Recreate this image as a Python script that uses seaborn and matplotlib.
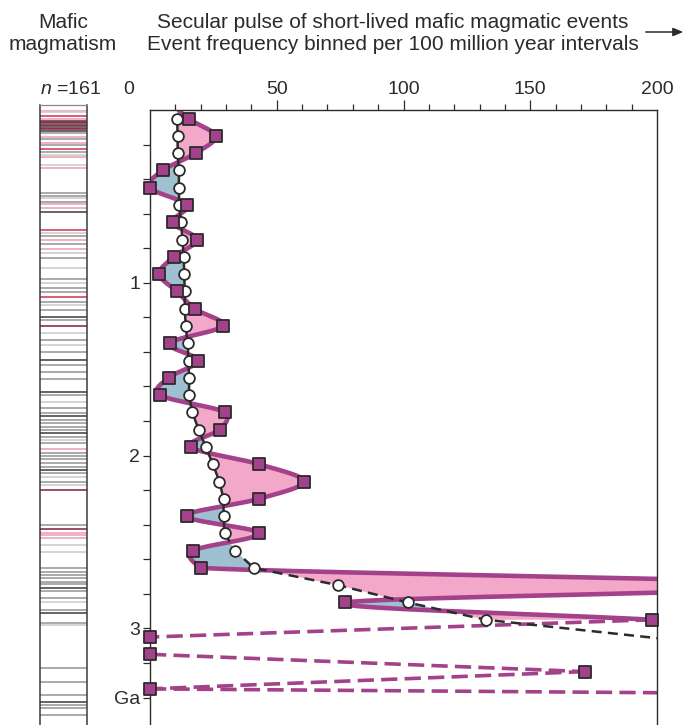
import numpy as np
import pandas as pd
import matplotlib
matplotlib.use("Agg")
import matplotlib.pyplot as plt
import matplotlib.transforms as mtransforms
import seaborn as sns

# ---------------------------------------------------------------------------
# Data
# ---------------------------------------------------------------------------
# 100 Myr bin centres (Ga)
bin_age = [0.05, 0.15, 0.25, 0.35, 0.45, 0.55, 0.65, 0.75, 0.85, 0.95,
           1.05, 1.15, 1.25, 1.35, 1.45, 1.55, 1.65, 1.75, 1.85, 1.95,
           2.05, 2.15, 2.25, 2.35, 2.45, 2.55, 2.65, 2.75, 2.85, 2.95]
# event frequency per bin (squares)
event_freq = [15.4, 25.9, 18.0, 5.0, 0.0, 14.6, 8.9, 18.5, 9.4, 3.6,
              10.7, 17.6, 28.8, 7.8, 18.9, 7.3, 3.9, 29.7, 27.5, 16.0,
              43.1, 60.8, 43.1, 14.4, 43.1, 17.0, 20.3, 270.0, 77.1, 198.0]
# long-term trend (open circles)
trend_freq = [10.7, 10.9, 10.9, 11.4, 11.4, 11.5, 12.3, 12.8, 13.3, 13.5,
              13.7, 13.7, 14.1, 14.8, 15.2, 15.4, 15.4, 16.7, 19.2, 22.0,
              24.8, 27.4, 29.0, 29.0, 29.4, 33.6, 40.9, 74.2, 101.7, 132.4]
# trend continues past the last plotted circle
trend_tail_age = [3.05, 3.15]
trend_tail_freq = [196.0, 260.0]

# poorly constrained Archean bins (dashed)
old_age = [2.95, 3.05, 3.15, 3.25, 3.35, 3.45]
old_freq = [198.0, 0.0, 0.0, 171.6, 0.0, 900.0]

# individual mafic events for the barcode column (Ma) and their colour class
event_age_ma = [5, 10, 35, 54, 62, 70, 78, 86, 94, 102, 110, 120,
                135, 155, 170, 189, 203, 227, 241, 260, 274, 318, 337,
                482, 498, 511, 531, 544, 569, 589, 694, 710, 729, 752, 775, 806, 829,
                858, 913, 978, 1003, 1032, 1051, 1080, 1109, 1128, 1157, 1196, 1215,
                1250, 1292, 1331, 1360, 1399, 1447, 1476, 1514, 1557, 1630, 1649,
                1688, 1723, 1755, 1771, 1794, 1813, 1833, 1852, 1871, 1891, 1910,
                1929, 1964, 1983, 2002, 2021, 2044, 2064, 2083, 2100, 2122, 2151,
                2170, 2199, 2402, 2426, 2446, 2459, 2479, 2517, 2556,
                2652, 2672, 2691, 2710, 2730, 2745, 2764, 2783, 2826, 2845, 2893,
                2912, 2970, 2980, 3231, 3308, 3385, 3428, 3443, 3462, 3501]
event_kind = list("pgrpRDRRDRRD"
                  "GpGpGrGgpgp"
                  "GGgGppDrgGpGpg"
                  "GgGgGGrGgGDG"
                  "RgGgGDGGGDG"
                  "gGGDGGGGDGg"
                  "GpGGGGGDGgG"
                  "gRGRpppgg"
                  "GGGGGGDGGgG"
                  "DGgGGGDGGG")

kind_colors = {"g": "#cdcdcd", "G": "#9c9c9c", "D": "#4a4a4a",
               "p": "#eaa6bc", "r": "#d8405f", "R": "#8c2f4b"}

PURPLE = "#a3428a"
PINK = "#f4a8c9"
BLUE = "#9fc0d1"
DARK = "#2b2b2b"


def smooth_curve(ages, vals, n=40):
    """Cardinal (Catmull-Rom) spline of vals vs age, tangents limited per segment."""
    a = np.asarray(ages, float)
    v = np.asarray(vals, float)
    m = np.gradient(v)
    t = np.linspace(0, 1, n)
    h00 = 2 * t**3 - 3 * t**2 + 1
    h10 = t**3 - 2 * t**2 + t
    h01 = -2 * t**3 + 3 * t**2
    h11 = t**3 - t**2
    xs, ys = [], []
    for i in range(len(v) - 1):
        lim = 3 * abs(v[i + 1] - v[i])
        m0 = np.clip(m[i], -lim, lim)
        m1 = np.clip(m[i + 1], -lim, lim)
        xs.append(h00 * v[i] + h10 * m0 + h01 * v[i + 1] + h11 * m1)
        ys.append(a[i] + t * (a[i + 1] - a[i]))
    return np.concatenate(xs), np.concatenate(ys)


# ---------------------------------------------------------------------------
# Figure
# ---------------------------------------------------------------------------
sns.set_style("ticks")
plt.rcParams["font.family"] = ["Liberation Sans", "DejaVu Sans"]
plt.rcParams["mathtext.fontset"] = "custom"
plt.rcParams["mathtext.it"] = "Liberation Sans:italic"
plt.rcParams["mathtext.rm"] = "Liberation Sans"

W, H = 687, 725
fig = plt.figure(figsize=(W / 100, H / 100), dpi=100)
ax = fig.add_axes([150 / W, 0, 507 / W, 615 / H])
bar_ax = fig.add_axes([40 / W, 0, 47 / W, 620 / H])

y_bottom = 615 / 172.8

# ── fills between the event curve and the trend ─────────────────────────
curve_x, curve_y = smooth_curve([0.0] + bin_age, [11.3] + event_freq)
trend_on_curve = np.interp(curve_y, [0.0] + bin_age, [10.7] + trend_freq)
ax.fill_betweenx(curve_y, curve_x, trend_on_curve, where=curve_x >= trend_on_curve,
                 interpolate=True, color=PINK, lw=0, zorder=1)
ax.fill_betweenx(curve_y, curve_x, trend_on_curve, where=curve_x < trend_on_curve,
                 interpolate=True, color=BLUE, lw=0, zorder=1)

curve_df = pd.DataFrame({"freq": curve_x, "age": curve_y})
sns.lineplot(data=curve_df, x="freq", y="age", sort=False, estimator=None,
             color=PURPLE, lw=3.3, ax=ax, zorder=2)

# dashed Archean part, broken where it would run along the axis
old_x = np.array(old_freq, float)
old_y = np.array(old_age, float)
for i in range(len(old_x) - 1):
    if old_x[i] == 0 and old_x[i + 1] == 0:
        continue
    seg = pd.DataFrame({"freq": old_x[i:i + 2], "age": old_y[i:i + 2]})
    sns.lineplot(data=seg, x="freq", y="age", sort=False, estimator=None,
                 color=PURPLE, lw=2.6, ls=(0, (4.5, 2.0)), ax=ax, zorder=2)

# ── trend line ───────────────────────────────────────────────────────────
trend_df = pd.DataFrame({"freq": trend_freq + trend_tail_freq,
                         "age": bin_age + trend_tail_age})
solid = trend_df[trend_df["age"] <= 2.46]
dashed = trend_df[trend_df["age"] >= 2.44]
sns.lineplot(data=solid, x="freq", y="age", sort=False, estimator=None,
             color=DARK, lw=1.8, ax=ax, zorder=3)
sns.lineplot(data=dashed, x="freq", y="age", sort=False, estimator=None,
             color=DARK, lw=1.8, ls=(0, (4, 2.5)), ax=ax, zorder=3)

# ── markers ──────────────────────────────────────────────────────────────
circ = pd.DataFrame({"freq": trend_freq, "age": bin_age})
sns.scatterplot(data=circ, x="freq", y="age", marker="o", s=60, color="white",
                edgecolor=DARK, linewidth=1.3, ax=ax, zorder=4, clip_on=False)

sq = pd.DataFrame({"freq": event_freq[:-1] + old_freq[:-1],
                   "age": bin_age[:-1] + old_age[:-1]})
sq = sq[sq["freq"] <= 200]
sns.scatterplot(data=sq, x="freq", y="age", marker="s", s=75, color=PURPLE,
                edgecolor=DARK, linewidth=1.3, ax=ax, zorder=5, clip_on=False)

# ── axes styling ─────────────────────────────────────────────────────────
ax.set_xlim(0, 200)
ax.set_ylim(y_bottom, 0)
ax.set_xlabel("")
ax.set_ylabel("")
ax.xaxis.tick_top()
ax.set_xticks([0, 50, 100, 150, 200])
ax.set_xticklabels(["0", "50", "100", "150", "200"])
ax.set_xticks(np.arange(10, 200, 10), minor=True)
ax.tick_params(axis="x", which="major", length=7.5, width=0.9, color=DARK,
               labelsize=14, pad=1.5, colors=DARK)
ax.tick_params(axis="x", which="minor", length=4, width=0.9, color=DARK)
majors = ax.xaxis.get_major_ticks()
for i in (0, 4):
    majors[i].tick2line.set_visible(False)
ax.get_xticklabels()[0].set_transform(
    ax.get_xticklabels()[0].get_transform()
    + mtransforms.ScaledTranslation(-0.21, 0, fig.dpi_scale_trans))

yt = np.round(np.arange(0.2, 3.41, 0.2), 1)
ax.set_yticks(yt)
ax.set_yticklabels(["1" if v == 1.0 else "2" if v == 2.0 else "3" if v == 3.0
                    else "Ga" if v == 3.4 else "" for v in yt])
ax.tick_params(axis="y", which="major", length=5, width=0.9, color=DARK,
               labelsize=14, pad=2, colors=DARK)
ax.tick_params(axis="y", which="minor", left=False)
for side in ("left", "top", "right"):
    ax.spines[side].set_color(DARK)
    ax.spines[side].set_linewidth(1.0)
ax.spines["bottom"].set_visible(False)

# ── barcode of individual events ─────────────────────────────────────────
bar_ax.hlines(np.array(event_age_ma) / 1000.0, 0, 1,
              colors=[kind_colors[k] for k in event_kind], lw=1.2)
bar_ax.set_xlim(0, 1)
bar_ax.set_ylim(y_bottom, -5 / 172.8)
bar_ax.set_xticks([])
bar_ax.set_yticks([])
for side in ("left", "right"):
    bar_ax.spines[side].set_color("#3a3a3a")
    bar_ax.spines[side].set_linewidth(1.1)
bar_ax.spines["top"].set_color("#888888")
bar_ax.spines["top"].set_linewidth(0.9)
bar_ax.spines["bottom"].set_visible(False)

# ── header text ──────────────────────────────────────────────────────────
def fy(px):
    return 1 - px / H

fig.text(63 / W, fy(22), "Mafic", ha="center", va="center", fontsize=15, color=DARK)
fig.text(63 / W, fy(45), "magmatism", ha="center", va="center", fontsize=15, color=DARK)
fig.text(393 / W, fy(22), "Secular pulse of short-lived mafic magmatic events",
         ha="center", va="center", fontsize=15, color=DARK)
fig.text(393 / W, fy(45), "Event frequency binned per 100 million year intervals",
         ha="center", va="center", fontsize=15, color=DARK)
fig.text(40 / W, fy(89), r"$n$ =161", ha="left", va="center", fontsize=14, color=DARK)
fig.patches.append(matplotlib.patches.FancyArrowPatch(
    (643 / W, fy(32)), (686 / W, fy(32)), transform=fig.transFigure,
    arrowstyle="-|>,head_length=6,head_width=2.5", lw=1.1, color=DARK))

fig.savefig("out.png", dpi=100)
